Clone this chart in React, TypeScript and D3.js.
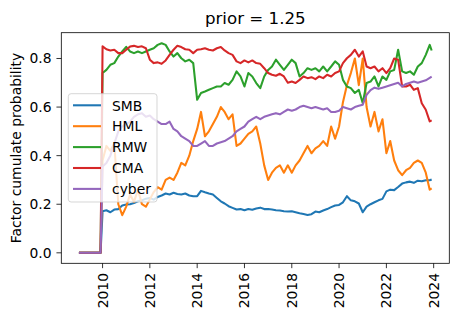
import * as d3 from "d3";

// monthly sample points: two in 2009 (all zero), then every second month, then Dec 2023
const dates: Date[] = [
  new Date(2009, 0, 1),
  new Date(2009, 11, 1),
  ...d3.timeMonth.every(2)!.range(new Date(2010, 0, 1), new Date(2023, 11, 1)),
  new Date(2023, 11, 1),
];

const smb = [
  0, 0,
  0.171, 0.175, 0.167, 0.178, 0.18, 0.195,
  0.199, 0.2, 0.205, 0.212, 0.216, 0.223,
  0.226, 0.219, 0.23, 0.236, 0.244, 0.24,
  0.247, 0.242, 0.24, 0.244, 0.236, 0.233,
  0.233, 0.255, 0.249, 0.244, 0.24, 0.226,
  0.212, 0.203, 0.192, 0.185, 0.178, 0.18,
  0.175, 0.18, 0.177, 0.182, 0.186, 0.18,
  0.18, 0.178, 0.175, 0.174, 0.171, 0.17,
  0.171, 0.167, 0.163, 0.16, 0.156, 0.159,
  0.17, 0.167, 0.174, 0.18, 0.188, 0.195,
  0.197, 0.208, 0.233, 0.216, 0.212, 0.203,
  0.167, 0.19, 0.2, 0.208, 0.216, 0.222,
  0.253, 0.26, 0.258, 0.271, 0.285, 0.29,
  0.293, 0.288, 0.297, 0.295, 0.299, 0.299,
  0.302,
];

const hml = [
  0, 0,
  0.38, 0.44, 0.42, 0.45, 0.2, 0.155,
  0.19, 0.24, 0.21, 0.26, 0.2, 0.19,
  0.22, 0.25, 0.27, 0.26, 0.3, 0.31,
  0.3, 0.33, 0.37, 0.36, 0.4, 0.46,
  0.51, 0.58, 0.48, 0.5, 0.53, 0.56,
  0.6, 0.58, 0.55, 0.57, 0.44, 0.45,
  0.47, 0.49, 0.5, 0.52, 0.45, 0.36,
  0.3, 0.33, 0.35, 0.36, 0.33, 0.36,
  0.33, 0.36, 0.38, 0.41, 0.44, 0.41,
  0.43, 0.44, 0.46, 0.44, 0.52, 0.47,
  0.52, 0.62, 0.69, 0.74, 0.8, 0.69,
  0.8, 0.6, 0.52, 0.58, 0.5, 0.55,
  0.41, 0.46, 0.38, 0.34, 0.32, 0.34,
  0.35, 0.37, 0.38, 0.37, 0.33, 0.26,
  0.265,
];

const rmw = [
  0, 0,
  0.74, 0.753, 0.774, 0.781, 0.808, 0.829,
  0.848, 0.829, 0.822, 0.829, 0.822, 0.829,
  0.836, 0.842, 0.856, 0.863, 0.856, 0.829,
  0.808, 0.822, 0.801, 0.788, 0.795, 0.781,
  0.63, 0.658, 0.664, 0.671, 0.678, 0.685,
  0.685, 0.699, 0.692, 0.712, 0.747, 0.726,
  0.685, 0.74, 0.726, 0.699, 0.678, 0.726,
  0.753, 0.767, 0.795, 0.774, 0.753, 0.774,
  0.795, 0.781, 0.726, 0.74, 0.76, 0.753,
  0.76, 0.747, 0.767, 0.747, 0.767, 0.788,
  0.774, 0.712, 0.685, 0.678, 0.658, 0.671,
  0.616, 0.699, 0.705, 0.726, 0.685, 0.726,
  0.712, 0.747, 0.753, 0.836, 0.747, 0.74,
  0.747, 0.733, 0.767, 0.781, 0.815, 0.856,
  0.833,
];

const cma = [
  0, 0,
  0.85, 0.838, 0.833, 0.836, 0.822, 0.822,
  0.836, 0.849, 0.852, 0.847, 0.85, 0.842,
  0.795, 0.781, 0.784, 0.778, 0.792, 0.815,
  0.836, 0.852, 0.847, 0.838, 0.836, 0.822,
  0.836, 0.838, 0.842, 0.836, 0.833, 0.842,
  0.847, 0.833, 0.822, 0.815, 0.788, 0.781,
  0.792, 0.784, 0.792, 0.781, 0.778, 0.76,
  0.74, 0.733, 0.729, 0.737, 0.726, 0.7,
  0.705, 0.699, 0.712, 0.726, 0.719, 0.723,
  0.715, 0.726, 0.719, 0.733, 0.726, 0.74,
  0.747, 0.781, 0.801, 0.815, 0.836, 0.808,
  0.829, 0.767, 0.76, 0.767, 0.747, 0.76,
  0.74, 0.76, 0.8, 0.795, 0.685, 0.685,
  0.692, 0.671, 0.678, 0.616, 0.589, 0.541,
  0.545,
];

const cyber = [
  0, 0,
  0.355, 0.37, 0.4, 0.45, 0.5, 0.52,
  0.53, 0.54, 0.56, 0.57, 0.575, 0.56,
  0.565, 0.55, 0.54, 0.53, 0.53, 0.54,
  0.51, 0.5, 0.48, 0.47, 0.46, 0.44,
  0.44, 0.45, 0.46, 0.44, 0.44, 0.45,
  0.455, 0.46, 0.47, 0.48, 0.5, 0.51,
  0.52, 0.54, 0.55, 0.56, 0.55, 0.56,
  0.565, 0.57, 0.575, 0.57, 0.58, 0.59,
  0.585, 0.59, 0.6, 0.605, 0.6, 0.595,
  0.6, 0.595, 0.59, 0.595, 0.58, 0.58,
  0.585, 0.6, 0.595, 0.59, 0.6, 0.605,
  0.61, 0.65, 0.67, 0.68, 0.675, 0.68,
  0.685, 0.69, 0.695, 0.7, 0.685, 0.695,
  0.7, 0.705, 0.7, 0.705, 0.71, 0.72,
  0.725,
];

const seriesNames = ["SMB", "HML", "RMW", "CMA", "cyber"];
const seriesValues = [smb, hml, rmw, cma, cyber];
const colors = ["#1f77b4", "#ff7f0e", "#2ca02c", "#d62728", "#9467bd"];
const yTicks = [0, 0.2, 0.4, 0.6, 0.8];

const W = 458;
const H = 318;
const FS = 13.89;
const left = 61.3,
  right = 449.3,
  top = 32.7,
  bottom = 263.3;

function App() {
  const tMin = +dates[0];
  const tMax = +dates[dates.length - 1];
  const tPad = (tMax - tMin) * 0.05;
  const xScale = d3
    .scaleTime()
    .domain([new Date(tMin - tPad), new Date(tMax + tPad)])
    .range([left, right]);

  const allVals = seriesValues.flat();
  const vMin = d3.min(allVals)!;
  const vMax = d3.max(allVals)!;
  const vPad = (vMax - vMin) * 0.05;
  const yScale = d3
    .scaleLinear()
    .domain([vMin - vPad, vMax + vPad])
    .range([bottom, top]);

  const line = d3
    .line<number>()
    .x((d, i) => xScale(dates[i]))
    .y((d) => yScale(d));

  const xTicks = xScale.ticks(d3.timeYear.every(2)!);
  const tickLen = 4.86;

  // legend geometry
  const lgX = 68.3,
    lgY = 93.7,
    lgW = 88.7,
    lgH = 108.3;
  const rowH = 20.9;

  return (
    <svg
      width={W}
      height={H}
      style={{ position: "absolute", left: 0, top: 0, background: "#fff" }}
      fontFamily="DejaVu Sans, sans-serif"
    >
      <text x={(left + right) / 2} y={23.6} fontSize={16.67} textAnchor="middle" fill="#000">
        prior = 1.25
      </text>

      {seriesValues.map((vals, i) => (
        <path
          key={seriesNames[i]}
          d={line(vals) || ""}
          fill="none"
          stroke={colors[i]}
          strokeWidth={2.08}
          strokeLinejoin="round"
          strokeLinecap="butt"
        />
      ))}

      <rect
        x={left}
        y={top}
        width={right - left}
        height={bottom - top}
        fill="none"
        stroke="#000"
        strokeWidth={0.8}
      />

      {yTicks.map((t) => (
        <g key={t}>
          <line x1={left - tickLen} x2={left} y1={yScale(t)} y2={yScale(t)} stroke="#000" strokeWidth={0.8} />
          <text
            x={left - tickLen - 4.86}
            y={yScale(t)}
            dy="0.36em"
            fontSize={FS}
            textAnchor="end"
            fill="#000"
          >
            {d3.format(".1f")(t)}
          </text>
        </g>
      ))}

      {xTicks.map((t) => (
        <g key={+t}>
          <line x1={xScale(t)} x2={xScale(t)} y1={bottom} y2={bottom + tickLen} stroke="#000" strokeWidth={0.8} />
          <text
            transform={`translate(${xScale(t)},${bottom + tickLen + 4.86}) rotate(-90)`}
            dy="0.36em"
            fontSize={FS}
            textAnchor="end"
            fill="#000"
          >
            {d3.timeFormat("%Y")(t)}
          </text>
        </g>
      ))}

      <text
        transform={`translate(16,${(top + bottom) / 2}) rotate(-90)`}
        dy="0.36em"
        fontSize={FS}
        textAnchor="middle"
        fill="#000"
      >
        Factor cumulate probability
      </text>

      <g>
        <rect
          x={lgX}
          y={lgY}
          width={lgW}
          height={lgH}
          rx={2.8}
          fill="#fff"
          fillOpacity={0.8}
          stroke="#cccccc"
          strokeOpacity={0.8}
          strokeWidth={1}
        />
        {seriesNames.map((name, i) => {
          const y = lgY + 11.6 + i * rowH;
          return (
            <g key={name}>
              <line x1={73} x2={101} y1={y} y2={y} stroke={colors[i]} strokeWidth={2.08} />
              <text x={112} y={y + 5.2} fontSize={FS} fill="#000">
                {name}
              </text>
            </g>
          );
        })}
      </g>
    </svg>
  );
}

export default App;
